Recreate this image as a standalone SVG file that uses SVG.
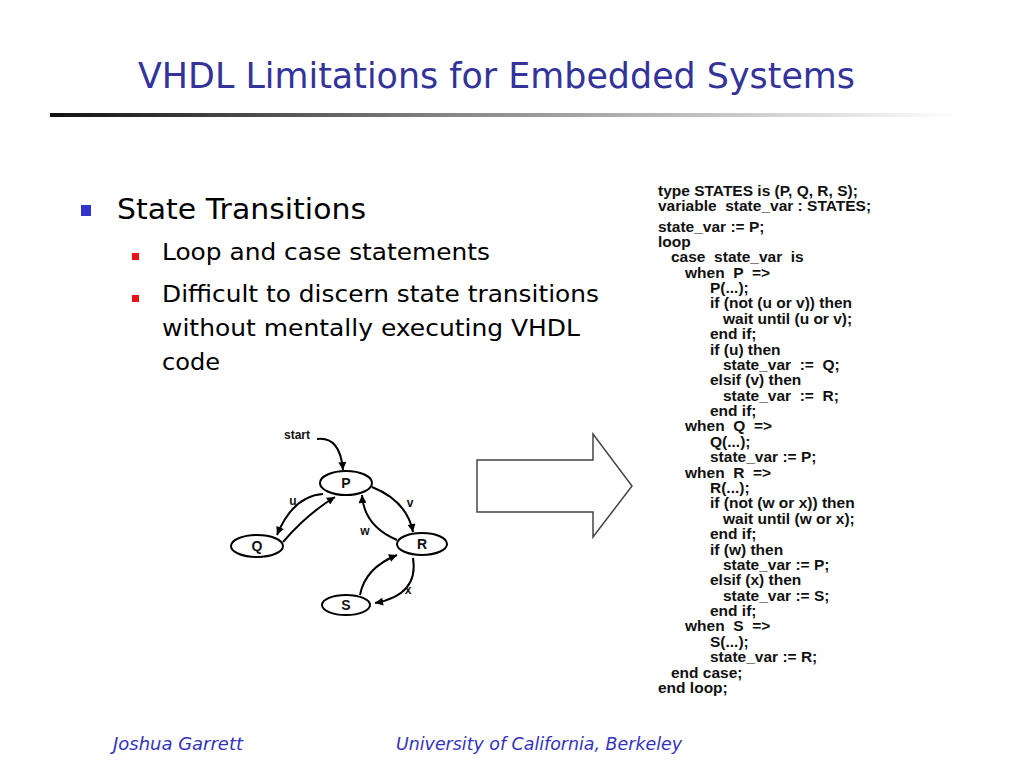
<svg xmlns="http://www.w3.org/2000/svg" width="1024" height="768" viewBox="0 0 1024 768" xml:space="preserve">
<defs>
<linearGradient id="rule" x1="0" y1="0" x2="1" y2="0">
<stop offset="0" stop-color="#111111"/>
<stop offset="0.45" stop-color="#888888"/>
<stop offset="1" stop-color="#ffffff"/>
</linearGradient>
<marker id="ah" viewBox="0 0 10 10" refX="10" refY="5" markerWidth="10" markerHeight="8" markerUnits="userSpaceOnUse" orient="auto">
<path d="M0,0 L10,5 L0,10 z" fill="#000"/>
</marker>
<style>
.title{font-family:"DejaVu Sans",Tahoma,sans-serif;font-size:35px;fill:#333399}
.b1{font-family:"DejaVu Sans",Tahoma,sans-serif;font-size:29px;fill:#000}
.b2{font-family:"DejaVu Sans",Tahoma,sans-serif;font-size:23px;fill:#000}
.foot{font-family:"DejaVu Sans",Tahoma,sans-serif;font-size:17px;font-style:italic;fill:#3333bb}
.code text{font-family:"Liberation Sans",Arial,sans-serif;font-size:15.5px;font-weight:bold;fill:#111;white-space:pre}
.node{fill:#fff;stroke:#000;stroke-width:2}
.nl{font-family:"Liberation Sans",Arial,sans-serif;font-size:14px;font-weight:bold;fill:#111;text-anchor:middle}
.el{font-family:"Liberation Sans",Arial,sans-serif;font-size:12px;font-weight:bold;fill:#111;text-anchor:middle}
.edge{fill:none;stroke:#000;stroke-width:2;marker-end:url(#ah)}
</style>
</defs>
<rect width="1024" height="768" fill="#fff"/>
<text class="title" x="138" y="88" textLength="717" lengthAdjust="spacingAndGlyphs">VHDL Limitations for Embedded Systems</text>
<rect x="50" y="113" width="910" height="4" fill="url(#rule)"/>

<rect x="81" y="205" width="10" height="11" fill="#3333cc"/>
<text class="b1" x="117" y="219" textLength="249" lengthAdjust="spacingAndGlyphs">State Transitions</text>
<rect x="132" y="253" width="7" height="7" fill="#ee1111"/>
<text class="b2" x="162" y="260" textLength="328" lengthAdjust="spacingAndGlyphs">Loop and case statements</text>
<rect x="132" y="295" width="7" height="7" fill="#ee1111"/>
<text class="b2" x="162" y="302" textLength="437" lengthAdjust="spacingAndGlyphs">Difficult to discern state transitions</text>
<text class="b2" x="162" y="336" textLength="418" lengthAdjust="spacingAndGlyphs">without mentally executing VHDL</text>
<text class="b2" x="162" y="370" textLength="58" lengthAdjust="spacingAndGlyphs">code</text>

<polygon points="477,460 593,460 593,434 632,486 593,537 593,512 477,512" fill="#fff" stroke="#444" stroke-width="1.5"/>

<g id="connectors">
<path class="edge" d="M317,439 Q340,436 343,470"/>
<path class="edge" d="M323,494 Q293,496 277,535"/>
<path class="edge" d="M283,542 Q307,514 335,497"/>
<path class="edge" d="M372,487 Q407,501 413,532"/>
<path class="edge" d="M397,540 Q364,526 362,495"/>
<path class="edge" d="M413,558 Q419,595 375,603"/>
<path class="edge" d="M360,595 Q365,568 397,555"/>
<text class="el" x="297" y="439">start</text>
<text class="el" x="293" y="505">u</text>
<text class="el" x="410" y="507">v</text>
<text class="el" x="365" y="535">w</text>
<text class="el" x="408" y="594">x</text>
</g>
<g id="node-P"><ellipse class="node" cx="346" cy="483" rx="26" ry="12"/><text class="nl" x="346" y="488">P</text></g>
<g id="node-Q"><ellipse class="node" cx="257" cy="546" rx="26" ry="11"/><text class="nl" x="257" y="551">Q</text></g>
<g id="node-R"><ellipse class="node" cx="422" cy="544" rx="25" ry="11"/><text class="nl" x="422" y="549">R</text></g>
<g id="node-S"><ellipse class="node" cx="346" cy="605" rx="24" ry="10"/><text class="nl" x="346" y="610">S</text></g>

<g id="code" class="code">
<text x="658" y="196">type STATES is (P, Q, R, S);</text>
<text x="658" y="211">variable  state_var : STATES;</text>
<text x="658" y="231.5">state_var := P;</text>
<text x="658" y="246.9">loop</text>
<text x="671" y="262.3">case  state_var  is</text>
<text x="685" y="277.6">when  P  =&gt;</text>
<text x="710" y="293">P(...);</text>
<text x="710" y="308.4">if (not (u or v)) then</text>
<text x="723" y="323.8">wait until (u or v);</text>
<text x="710" y="339.2">end if;</text>
<text x="710" y="354.5">if (u) then</text>
<text x="723" y="369.9">state_var  :=  Q;</text>
<text x="710" y="385.3">elsif (v) then</text>
<text x="723" y="400.7">state_var  :=  R;</text>
<text x="710" y="416.1">end if;</text>
<text x="685" y="431.4">when  Q  =&gt;</text>
<text x="710" y="446.8">Q(...);</text>
<text x="710" y="462.2">state_var := P;</text>
<text x="685" y="477.6">when  R  =&gt;</text>
<text x="710" y="493">R(...);</text>
<text x="710" y="508.3">if (not (w or x)) then</text>
<text x="723" y="523.7">wait until (w or x);</text>
<text x="710" y="539.1">end if;</text>
<text x="710" y="554.5">if (w) then</text>
<text x="723" y="569.9">state_var := P;</text>
<text x="710" y="585.2">elsif (x) then</text>
<text x="723" y="600.6">state_var := S;</text>
<text x="710" y="616">end if;</text>
<text x="685" y="631.4">when  S  =&gt;</text>
<text x="710" y="646.8">S(...);</text>
<text x="710" y="662.1">state_var := R;</text>
<text x="671" y="677.5">end case;</text>
<text x="658" y="692.9">end loop;</text>
</g>

<text class="foot" x="113" y="750" textLength="130" lengthAdjust="spacingAndGlyphs">Joshua Garrett</text>
<text class="foot" x="396" y="750" textLength="286" lengthAdjust="spacingAndGlyphs">University of California, Berkeley</text>
</svg>
